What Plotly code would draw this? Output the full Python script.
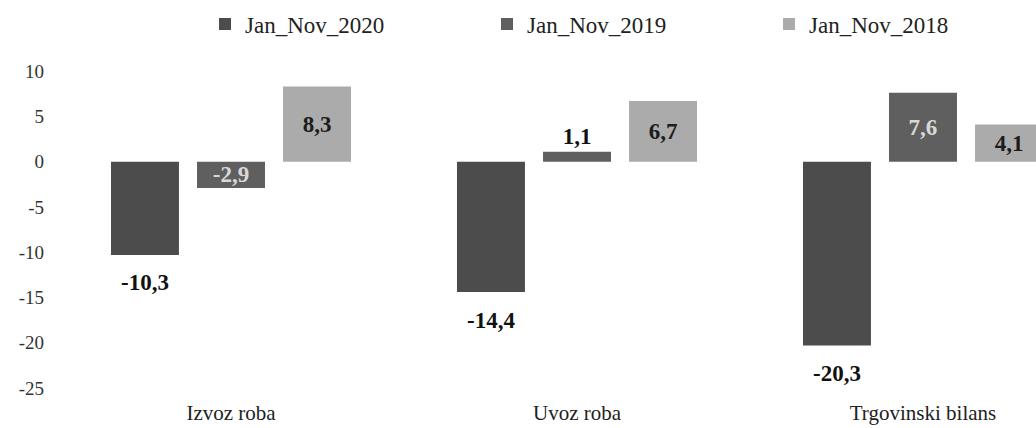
import plotly.graph_objects as go

categories = ["Izvoz roba", "Uvoz roba", "Trgovinski bilans"]
series_names = ["Jan_Nov_2020", "Jan_Nov_2019", "Jan_Nov_2018"]
values_2020 = [-10.3, -14.4, -20.3]
values_2019 = [-2.9, 1.1, 7.6]
values_2018 = [8.3, 6.7, 4.1]
y_ticks = [10, 5, 0, -5, -10, -15, -20, -25]

all_values = [values_2020, values_2019, values_2018]
colors = ["#4c4c4c", "#5f5f5f", "#ababab"]
inside_text_colors = ["#dcdcdc", "#d8d8d8", "#1c1c1c"]
label_modes = [["below", "below", "below"],
               ["inside", "outside", "inside"],
               ["inside", "inside", "inside"]]

SERIF = "Liberation Serif"
BARGAP = 0.254
BARGROUPGAP = 0.21


def fmt(v):
    return f"{v:.1f}".replace(".", ",")


fig = go.Figure()
annotations = []
n_series = len(series_names)
slot = (1 - BARGAP) / n_series

for si, (name, vals, col, tcol, modes) in enumerate(
        zip(series_names, all_values, colors, inside_text_colors, label_modes)):
    texts, positions, tcolors = [], [], []
    for ci, (v, m) in enumerate(zip(vals, modes)):
        if m == "below":
            texts.append("")
            positions.append("none")
            tcolors.append(tcol)
            annotations.append(dict(
                x=ci + (si - (n_series - 1) / 2) * slot, y=v,
                xref="x", yref="y", text=f"<b>{fmt(v)}</b>", showarrow=False,
                yshift=-28, font=dict(family=SERIF, size=23, color="#111111")))
        else:
            texts.append(f"<b>{fmt(v)}</b>")
            positions.append(m)
            tcolors.append(tcol if m == "inside" else "#111111")
    fig.add_trace(go.Bar(
        name=name, x=categories, y=vals,
        marker=dict(color=col, line=dict(width=0)),
        text=texts, textposition=positions,
        insidetextanchor="middle", constraintext="none", cliponaxis=False,
        textfont=dict(family=SERIF, size=23, color=tcolors),
        outsidetextfont=dict(family=SERIF, size=23, color="#111111"),
        textangle=0,
    ))

fig.update_layout(
    width=1036, height=428,
    margin=dict(l=45, r=0, t=53, b=30, autoexpand=False),
    paper_bgcolor="white", plot_bgcolor="white",
    barmode="group", bargap=BARGAP, bargroupgap=BARGROUPGAP,
    separators=",.",
    font=dict(family=SERIF, color="#222222"),
    showlegend=True,
    legend=dict(orientation="h", xref="container", yref="container",
                x=205 / 1036, xanchor="left", y=1 - 24 / 428, yanchor="middle",
                entrywidth=237, entrywidthmode="pixels",
                font=dict(family=SERIF, size=23, color="#222222"),
                itemclick=False, itemdoubleclick=False),
    annotations=annotations,
)
fig.update_xaxes(range=[-0.5376, 2.3266], showgrid=False, zeroline=False,
                 showline=False, ticks="", automargin=False,
                 tickfont=dict(family=SERIF, size=21, color="#222222"))
fig.update_yaxes(range=[-26.1, 12], tickvals=y_ticks,
                 ticktext=[str(t) for t in y_ticks], automargin=False,
                 showgrid=False, zeroline=False, showline=False, ticks="",
                 tickfont=dict(family=SERIF, size=19, color="#333333"))

fig.write_html(
    "out.html",
    config={"displayModeBar": False},
    post_script="document.body.style.margin='0';document.body.style.overflow='hidden';",
)
